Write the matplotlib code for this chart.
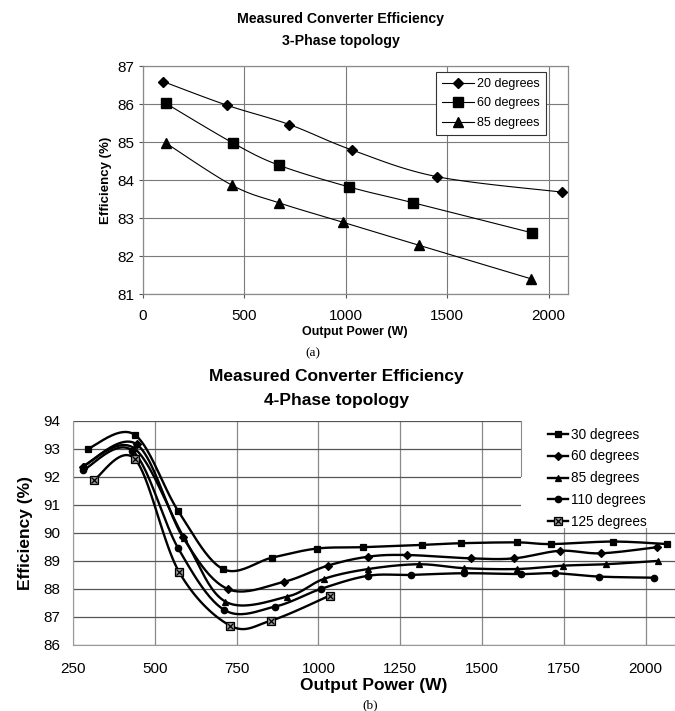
import numpy as np
import matplotlib
matplotlib.use("Agg")
import matplotlib.pyplot as plt
from matplotlib.lines import Line2D
from matplotlib.patches import Rectangle
from matplotlib.legend_handler import HandlerTuple

# ---------------- data: (a) 3-phase ----------------
a_x20 = [101, 414, 722, 1031, 1448, 2067]
a_y20 = [86.59, 85.97, 85.46, 84.79, 84.09, 83.68]
a_x60 = [113, 446, 671, 1015, 1333, 1918]
a_y60 = [86.02, 84.97, 84.39, 83.82, 83.40, 82.61]
a_x85 = [115, 441, 671, 985, 1363, 1913]
a_y85 = [84.97, 83.86, 83.40, 82.89, 82.28, 81.40]
a_labels = ["20 degrees", "60 degrees", "85 degrees"]
a_xticks = [0, 500, 1000, 1500, 2000]
a_yticks = [81, 82, 83, 84, 85, 86, 87]

# ---------------- data: (b) 4-phase ----------------
b_x30 = [295, 438, 571, 708, 859, 995, 1137, 1317, 1435, 1608, 1711, 1901, 2066]
b_y30 = [93.0, 93.5, 90.78, 88.71, 89.12, 89.44, 89.49, 89.57, 89.63, 89.66, 89.60, 89.69, 89.60]
b_x60 = [279, 444, 585, 722, 893, 1028, 1152, 1270, 1466, 1598, 1738, 1864, 2036]
b_y60 = [92.36, 93.16, 89.85, 88.0, 88.25, 88.83, 89.15, 89.21, 89.09, 89.09, 89.36, 89.27, 89.49]
b_x85 = [282, 436, 590, 715, 903, 1017, 1152, 1307, 1446, 1608, 1748, 1878, 2039]
b_y85 = [92.4, 93.02, 89.8, 87.55, 87.72, 88.36, 88.71, 88.88, 88.74, 88.71, 88.83, 88.88, 89.0]
b_x110 = [281, 431, 571, 712, 867, 1007, 1152, 1282, 1446, 1619, 1723, 1858, 2027]
b_y110 = [92.24, 92.93, 89.45, 87.25, 87.37, 88.0, 88.47, 88.5, 88.56, 88.53, 88.56, 88.44, 88.4]
b_x125 = [314, 439, 573, 730, 855, 1034]
b_y125 = [91.89, 92.63, 88.62, 86.69, 86.87, 87.76]
b_labels = ["30 degrees", "60 degrees", "85 degrees", "110 degrees", "125 degrees"]
b_xticks = [250, 500, 750, 1000, 1250, 1500, 1750, 2000]
b_yticks = [86, 87, 88, 89, 90, 91, 92, 93, 94]

plt.rcParams['font.family'] = ['Liberation Sans', 'DejaVu Sans']

W, H = 675, 711
fig = plt.figure(figsize=(W / 100, H / 100), dpi=100)


def smooth(ax, xs, ys, n=24):
    """Excel-style smoothed path (Catmull-Rom) computed in screen-scaled space."""
    bb = ax.get_position()
    x0, x1 = ax.get_xlim()
    y0, y1 = ax.get_ylim()
    sx = bb.width * W / (x1 - x0)
    sy = bb.height * H / (y1 - y0)
    P = np.column_stack([np.asarray(xs, float) * sx, np.asarray(ys, float) * sy])
    P = np.vstack([P[0], P, P[-1]])
    out = []
    t = np.linspace(0, 1, n)[:, None]
    for i in range(1, len(P) - 2):
        p0, p1, p2, p3 = P[i - 1], P[i], P[i + 1], P[i + 2]
        c1 = p1 + (p2 - p0) / 6.0
        c2 = p2 - (p3 - p1) / 6.0
        seg = ((1 - t) ** 3) * p1 + 3 * ((1 - t) ** 2) * t * c1 + 3 * (1 - t) * t ** 2 * c2 + t ** 3 * p2
        out.append(seg if i == 1 else seg[1:])
    out = np.vstack(out)
    return out[:, 0] / sx, out[:, 1] / sy


grid_c = '#7a7a7a'

# ================= chart (a) =================
axA = fig.add_axes([142.7 / W, 1 - 294 / H, 425 / W, 228 / H])
axA.set_xlim(0, 2094)
axA.set_ylim(81, 87)
axA.set_xticks(a_xticks)
axA.set_yticks(a_yticks)
axA.grid(True, color=grid_c, lw=0.8)
axA.set_axisbelow(True)
for s in axA.spines.values():
    s.set_color('#8a8a8a')
    s.set_linewidth(0.9)
axA.tick_params(axis='both', length=3, width=0.8, color='#555555', labelsize=11, pad=3)
axA.tick_params(axis='x', pad=8)

a_series = [(a_x20, a_y20, 'D', 5.2), (a_x60, a_y60, 's', 6.8), (a_x85, a_y85, '^', 7.2)]
a_handles = []
for (xs, ys, mk, ms), lab in zip(a_series, a_labels):
    sxs, sys_ = smooth(axA, xs, ys)
    axA.plot(sxs, sys_, color='black', lw=0.8, zorder=3)
    axA.plot(xs, ys, ls='none', marker=mk, ms=ms, color='black', zorder=4)
    a_handles.append(Line2D([], [], color='black', lw=0.8, marker=mk, ms=ms))

legA = axA.legend(a_handles, a_labels, loc='upper left', bbox_to_anchor=(0.689, 0.975),
                  borderaxespad=0, fontsize=9.0, handlelength=2.6, labelspacing=0.6,
                  handletextpad=0.2, borderpad=0.5, frameon=True, fancybox=False)
legA.get_frame().set_edgecolor('#333333')
legA.get_frame().set_linewidth(0.8)
legA.get_frame().set_alpha(1)

axA.set_xlabel("Output Power (W)", fontsize=9, fontweight='bold', labelpad=2)
axA.set_ylabel("Efficiency (%)", fontsize=9.5, fontweight='bold', labelpad=4)
fig.text(340.8 / W, 1 - 19.3 / H, "Measured Converter Efficiency", ha='center', va='center',
         fontsize=10.2, fontweight='bold')
fig.text(340.8 / W, 1 - 40.7 / H, "3-Phase topology", ha='center', va='center',
         fontsize=10.2, fontweight='bold')
fig.text(313 / W, 1 - 353 / H, "(a)", ha='center', va='center', fontsize=9.5,
         family=['Liberation Serif', 'DejaVu Serif'])

# ================= chart (b) =================
axB = fig.add_axes([73.2 / W, 1 - 645 / H, (675 - 73.2) / W, 224.3 / H])
axB.set_xlim(250, 2090)
axB.set_ylim(86, 94)
axB.set_xticks(b_xticks)
axB.set_yticks(b_yticks)
axB.grid(True, axis='y', color='#555555', lw=0.9)
axB.grid(True, axis='x', color='#8a8a8a', lw=0.9)
axB.set_axisbelow(True)
for k, s in axB.spines.items():
    if k in ('top', 'right'):
        s.set_visible(False)
    else:
        s.set_color('#9a9a9a')
        s.set_linewidth(0.8)
        s.set_linestyle((0, (2, 1)))
axB.tick_params(axis='both', length=0, labelsize=11)
axB.tick_params(axis='y', pad=9)
axB.tick_params(axis='x', pad=12)

# white legend panel with a grey left edge (as in the original)
axB.add_patch(Rectangle((521 / W, 1 - 528 / H), 0.5, 0.5, transform=fig.transFigure,
                        facecolor='white', edgecolor='none', zorder=2))
fig.add_artist(Line2D([521 / W, 521 / W], [1 - 476 / H, 1 - 420.7 / H], color='#8a8a8a', lw=0.8))

b_series = [(b_x30, b_y30, 's', 4.5, 'black'),
            (b_x60, b_y60, 'D', 3.8, 'black'),
            (b_x85, b_y85, '^', 5.0, 'black'),
            (b_x110, b_y110, 'o', 4.6, 'black'),
            (b_x125, b_y125, 's', 6.0, '#9a9a9a')]
b_handles = []
for i, ((xs, ys, mk, ms, fc), lab) in enumerate(zip(b_series, b_labels)):
    sxs, sys_ = smooth(axB, xs, ys)
    axB.plot(sxs, sys_, color='black', lw=1.7, zorder=3)
    axB.plot(xs, ys, ls='none', marker=mk, ms=ms, mfc=fc, mec='black', mew=0.9, zorder=4)
    h = Line2D([], [], color='black', lw=1.7, marker=mk, ms=ms, mfc=fc, mec='black', mew=0.9)
    if i == 4:
        axB.plot(xs, ys, ls='none', marker='x', ms=4.2, color='black', mew=0.9, zorder=5)
        hx = Line2D([], [], ls='none', marker='x', ms=4.2, color='black', mew=0.9)
        h = (h, hx)
    b_handles.append(h)

legB = axB.legend(b_handles, b_labels, loc='upper left', bbox_to_anchor=(0.777, 1.0),
                  borderaxespad=0, fontsize=9.8, handlelength=1.5, labelspacing=0.58,
                  handletextpad=0.25, borderpad=0.5, frameon=False,
                  handler_map={tuple: HandlerTuple(ndivide=1, pad=0)})

axB.set_xlabel("Output Power (W)", fontsize=12.5, fontweight='bold', labelpad=2)
axB.set_ylabel("Efficiency (%)", fontsize=12.5, fontweight='bold', labelpad=8)
fig.text(336 / W, 1 - 376.7 / H, "Measured Converter Efficiency", ha='center', va='center',
         fontsize=12.5, fontweight='bold')
fig.text(336 / W, 1 - 400 / H, "4-Phase topology", ha='center', va='center',
         fontsize=12.5, fontweight='bold')
fig.text(370 / W, 1 - 705 / H, "(b)", ha='center', va='center', fontsize=9.5,
         family=['Liberation Serif', 'DejaVu Serif'])

fig.savefig("out.png", dpi=100, facecolor='white')
